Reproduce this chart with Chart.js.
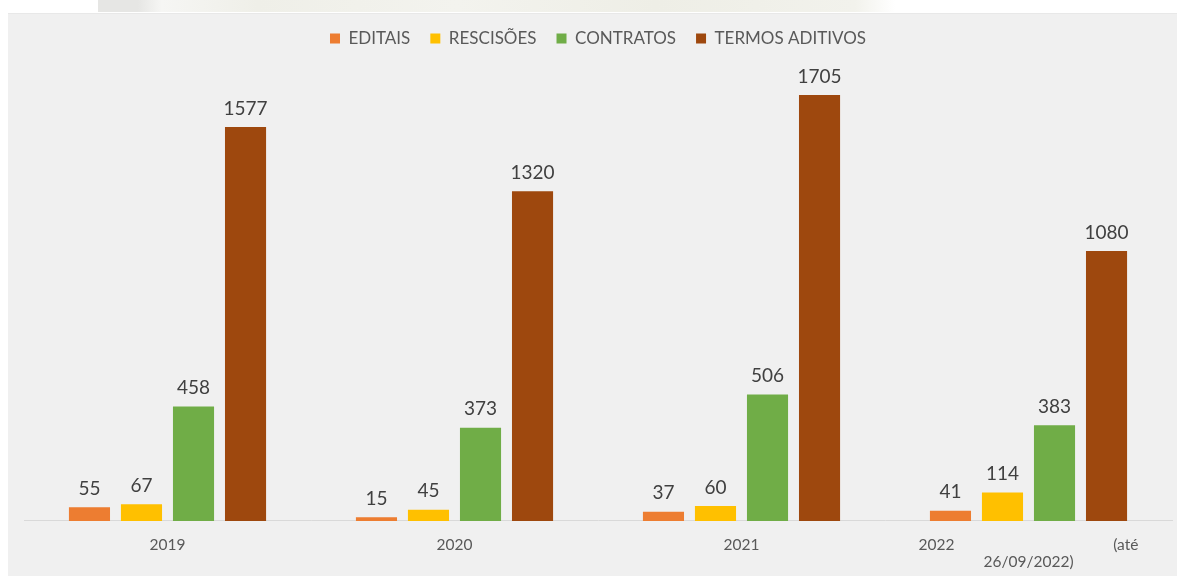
<!DOCTYPE html>
<html>
<head>
<meta charset="utf-8">
<script src="https://cdn.jsdelivr.net/npm/chart.js@4.4.1/dist/chart.umd.min.js"></script>
<style>
    body { margin: 0; background: #ffffff; width: 1177px; height: 576px; overflow: hidden; position: relative; }
    #strip { position: absolute; left: 98px; top: 0; width: 797px; height: 12px;
             background: linear-gradient(90deg, #e6e6e4 0%, #e6e6e4 5%, #f6f6f4 8%, #efefe8 20%, #f3f3ee 45%, #eeeee6 70%, #f2f2ec 95%, #ffffff 100%); }
    #panel { position: absolute; left: 8px; top: 13px; width: 1169px; height: 563px; overflow: hidden;
             background: #f0f0f0; border-top: 1px solid #e8e8e8; box-sizing: border-box; }
    canvas { position: absolute; left: 0; top: 0; }
</style>
</head>
<body>
<div id="strip"></div>
<div id="panel">
    <canvas id="barChart" width="1169" height="573"></canvas>
</div>
<script>
// categories (the last one wraps in two lines like in the original)
const years = ['2019', '2020', '2021',
    ['2022                                        (até', '26/09/2022)']];

const editais    = [55, 15, 37, 41];
const rescisoes  = [67, 45, 60, 114];
const contratos  = [458, 373, 506, 383];
const termos     = [1577, 1320, 1705, 1080];

// value labels above each bar
const valueLabels = {
    id: 'valueLabels',
    afterDatasetsDraw(chart) {
        const ctx = chart.ctx;
        ctx.save();
        ctx.font = '19px Lato';
        ctx.fillStyle = '#404040';
        ctx.textAlign = 'center';
        ctx.textBaseline = 'bottom';
        chart.data.datasets.forEach((ds, i) => {
            chart.getDatasetMeta(i).data.forEach((bar, j) => {
                ctx.fillText(ds.data[j], bar.x, bar.y - 9);
            });
        });
        ctx.restore();
    }
};

new Chart(document.getElementById('barChart'), {
    type: 'bar',
    data: {
        labels: years,
        datasets: [
            { label: 'EDITAIS', data: editais, backgroundColor: '#ED7D31' },
            { label: 'RESCISÕES', data: rescisoes, backgroundColor: '#FFC000' },
            { label: 'CONTRATOS', data: contratos, backgroundColor: '#70AD47' },
            { label: 'TERMOS ADITIVOS', data: termos, backgroundColor: '#9E480E' }
        ]
    },
    options: {
        responsive: false,
        animation: false,
        layout: { padding: { top: -4, left: 16, right: 5, bottom: 0 } },
        datasets: { bar: { categoryPercentage: 0.725, barPercentage: 0.79 } },
        plugins: {
            legend: {
                position: 'top',
                labels: {
                    boxWidth: 10, boxHeight: 10, padding: 20,
                    color: '#595959',
                    font: { family: 'Lato', size: 17 }
                }
            },
            tooltip: { enabled: false }
        },
        scales: {
            x: {
                grid: { display: false, drawTicks: false },
                border: { display: true, color: '#d9d9d9', width: 1 },
                ticks: {
                    color: '#595959', padding: 16, maxRotation: 0, autoSkip: false,
                    font: { family: 'Lato', size: 15.5, lineHeight: 1.1 }
                }
            },
            y: {
                display: false,
                min: 0,
                max: 1857
            }
        }
    },
    plugins: [valueLabels]
});
</script>
</body>
</html>
